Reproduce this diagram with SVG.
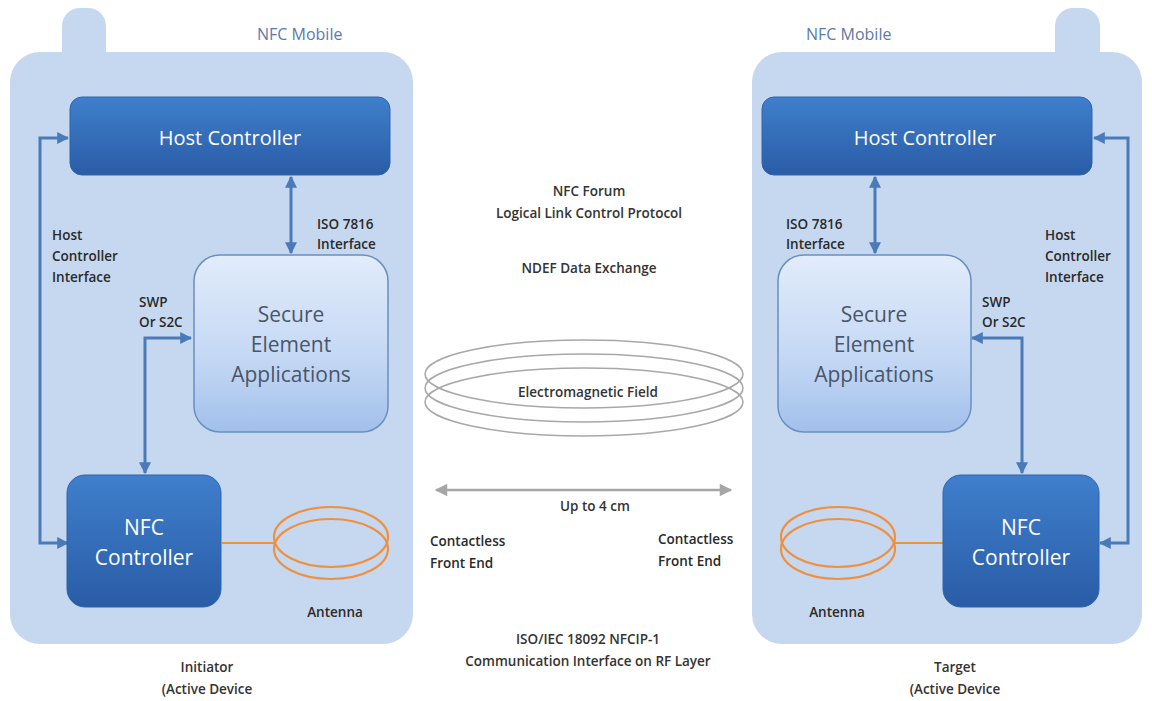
<svg xmlns="http://www.w3.org/2000/svg" width="1152" height="701" viewBox="0 0 1152 701">
<defs>
<linearGradient id="dark" x1="0" y1="0" x2="0" y2="1"><stop offset="0" stop-color="#3f7fcc"/><stop offset="1" stop-color="#2a5ca6"/></linearGradient>
<linearGradient id="light" x1="0" y1="0" x2="0" y2="1"><stop offset="0" stop-color="#e2ecfb"/><stop offset="0.6" stop-color="#c3d7f4"/><stop offset="1" stop-color="#a2c0ec"/></linearGradient>
<marker id="ah" viewBox="0 0 10 10" refX="9" refY="5" markerWidth="4" markerHeight="4" orient="auto-start-reverse" markerUnits="strokeWidth"><path d="M0,0 L10,5 L0,10 z" fill="#4a7ab8"/></marker>
<marker id="gh" viewBox="0 0 10 10" refX="9" refY="5" markerWidth="6" markerHeight="5" orient="auto-start-reverse" markerUnits="strokeWidth"><path d="M0,0 L10,5 L0,10 z" fill="#a6a6a6"/></marker>
</defs>
<style>
.body{fill:#c6d8ef}
.dark{fill:url(#dark);stroke:#2f64ad;stroke-width:1}
.se{fill:url(#light);stroke:#6a8fc0;stroke-width:1.5}
.wt{font-family:"Open Sans","Liberation Sans",sans-serif;fill:#ffffff;text-anchor:middle}
.st{font-family:"Open Sans","Liberation Sans",sans-serif;fill:#4a5668;text-anchor:middle;font-size:21px}
.lb{font-family:"Open Sans","Liberation Sans",sans-serif;fill:#2a2a2a;font-size:13.5px;font-weight:600}
.cl{font-family:"Open Sans","Liberation Sans",sans-serif;fill:#333;font-size:13.5px;font-weight:600;text-anchor:middle}
.mob{font-family:"Open Sans","Liberation Sans",sans-serif;fill:#5b7aa8;font-size:16px}
.con{fill:none;stroke:#4a7ab8;stroke-width:3}
.ant{fill:none;stroke:#ee9040;stroke-width:2.2}
.em{fill:none;stroke:#a8a8a8;stroke-width:1.5}
</style>
<rect width="1152" height="701" fill="#ffffff"/>
<g id="left-phone">
<rect class="body" x="62" y="8" width="44" height="60" rx="18"/>
<rect class="body" x="10" y="52" width="403" height="592" rx="30"/>
<text class="mob" x="257" y="40">NFC Mobile</text>
</g>
<g id="right-phone">
<rect class="body" x="1055" y="8" width="45" height="60" rx="18"/>
<rect class="body" x="752" y="52" width="390" height="592" rx="30"/>
<text class="mob" x="806" y="40">NFC Mobile</text>
</g>
<g id="connectors">
<path class="con" d="M68,543 H40 V138 H68" marker-start="url(#ah)" marker-end="url(#ah)"/>
<path class="con" d="M291,177 V253" marker-start="url(#ah)" marker-end="url(#ah)"/>
<path class="con" d="M191,338 H145 V473" marker-start="url(#ah)" marker-end="url(#ah)"/>
<path class="con" d="M1100,543 H1128 V138 H1094" marker-start="url(#ah)" marker-end="url(#ah)"/>
<path class="con" d="M875,177 V253" marker-start="url(#ah)" marker-end="url(#ah)"/>
<path class="con" d="M972,338 H1022 V473" marker-start="url(#ah)" marker-end="url(#ah)"/>
<line x1="222" y1="543" x2="275" y2="543" class="ant" stroke-width="2.5"/>
<line x1="893" y1="543" x2="943" y2="543" class="ant" stroke-width="2.5"/>
<line x1="436" y1="490" x2="731" y2="490" stroke="#a6a6a6" stroke-width="2.5" marker-start="url(#gh)" marker-end="url(#gh)"/>
</g>
<g id="host-left"><rect class="dark" x="70" y="97" width="320" height="78" rx="12"/><text class="wt" x="230" y="145" font-size="20">Host Controller</text></g>
<g id="se-left"><rect class="se" x="194" y="255" width="194" height="177" rx="26"/><text class="st" x="291" y="322">Secure</text><text class="st" x="291" y="352">Element</text><text class="st" x="291" y="382">Applications</text></g>
<g id="nfc-left"><rect class="dark" x="67" y="475" width="154" height="132" rx="18"/><text class="wt" x="144" y="535" font-size="21">NFC</text><text class="wt" x="144" y="565" font-size="21">Controller</text></g>
<g id="antenna-left"><ellipse class="ant" cx="331" cy="537" rx="57" ry="30"/><ellipse class="ant" cx="331" cy="549" rx="57" ry="30"/><text class="lb" x="335" y="617" text-anchor="middle">Antenna</text></g>
<g id="host-right"><rect class="dark" x="762" y="97" width="330" height="78" rx="12"/><text class="wt" x="925" y="145" font-size="20">Host Controller</text></g>
<g id="se-right"><rect class="se" x="778" y="255" width="193" height="177" rx="26"/><text class="st" x="874" y="322">Secure</text><text class="st" x="874" y="352">Element</text><text class="st" x="874" y="382">Applications</text></g>
<g id="nfc-right"><rect class="dark" x="943" y="475" width="156" height="132" rx="18"/><text class="wt" x="1021" y="535" font-size="21">NFC</text><text class="wt" x="1021" y="565" font-size="21">Controller</text></g>
<g id="antenna-right"><ellipse class="ant" cx="838" cy="537" rx="57" ry="30"/><ellipse class="ant" cx="838" cy="549" rx="57" ry="30"/><text class="lb" x="837" y="617" text-anchor="middle">Antenna</text></g>
<g id="labels-left">
<text class="lb" x="317" y="229">ISO 7816</text><text class="lb" x="317" y="249">Interface</text>
<text class="lb" x="52" y="240">Host</text><text class="lb" x="52" y="261">Controller</text><text class="lb" x="52" y="282">Interface</text>
<text class="lb" x="139" y="307">SWP</text><text class="lb" x="139" y="327">Or S2C</text>
<text class="cl" x="207" y="672">Initiator</text><text class="cl" x="207" y="694">(Active Device</text>
</g>
<g id="labels-right">
<text class="lb" x="786" y="229">ISO 7816</text><text class="lb" x="786" y="249">Interface</text>
<text class="lb" x="1045" y="240">Host</text><text class="lb" x="1045" y="261">Controller</text><text class="lb" x="1045" y="282">Interface</text>
<text class="lb" x="982" y="307">SWP</text><text class="lb" x="982" y="327">Or S2C</text>
<text class="cl" x="955" y="672">Target</text><text class="cl" x="955" y="694">(Active Device</text>
</g>
<g id="center">
<text class="cl" x="589" y="196">NFC Forum</text>
<text class="cl" x="589" y="218">Logical Link Control Protocol</text>
<text class="cl" x="589" y="273">NDEF Data Exchange</text>
<ellipse class="em" cx="584" cy="374" rx="159" ry="34"/>
<ellipse class="em" cx="584" cy="388" rx="159" ry="34"/>
<ellipse class="em" cx="584" cy="402" rx="159" ry="34"/>
<text class="cl" x="588" y="397">Electromagnetic Field</text>
<text class="cl" x="595" y="511" font-size="12">Up to 4 cm</text>
<text class="lb" x="430" y="546">Contactless</text><text class="lb" x="430" y="568">Front End</text>
<text class="lb" x="658" y="544">Contactless</text><text class="lb" x="658" y="566">Front End</text>
<text class="cl" x="588" y="644">ISO/IEC 18092 NFCIP-1</text>
<text class="cl" x="588" y="666">Communication Interface on RF Layer</text>
</g>
</svg>
